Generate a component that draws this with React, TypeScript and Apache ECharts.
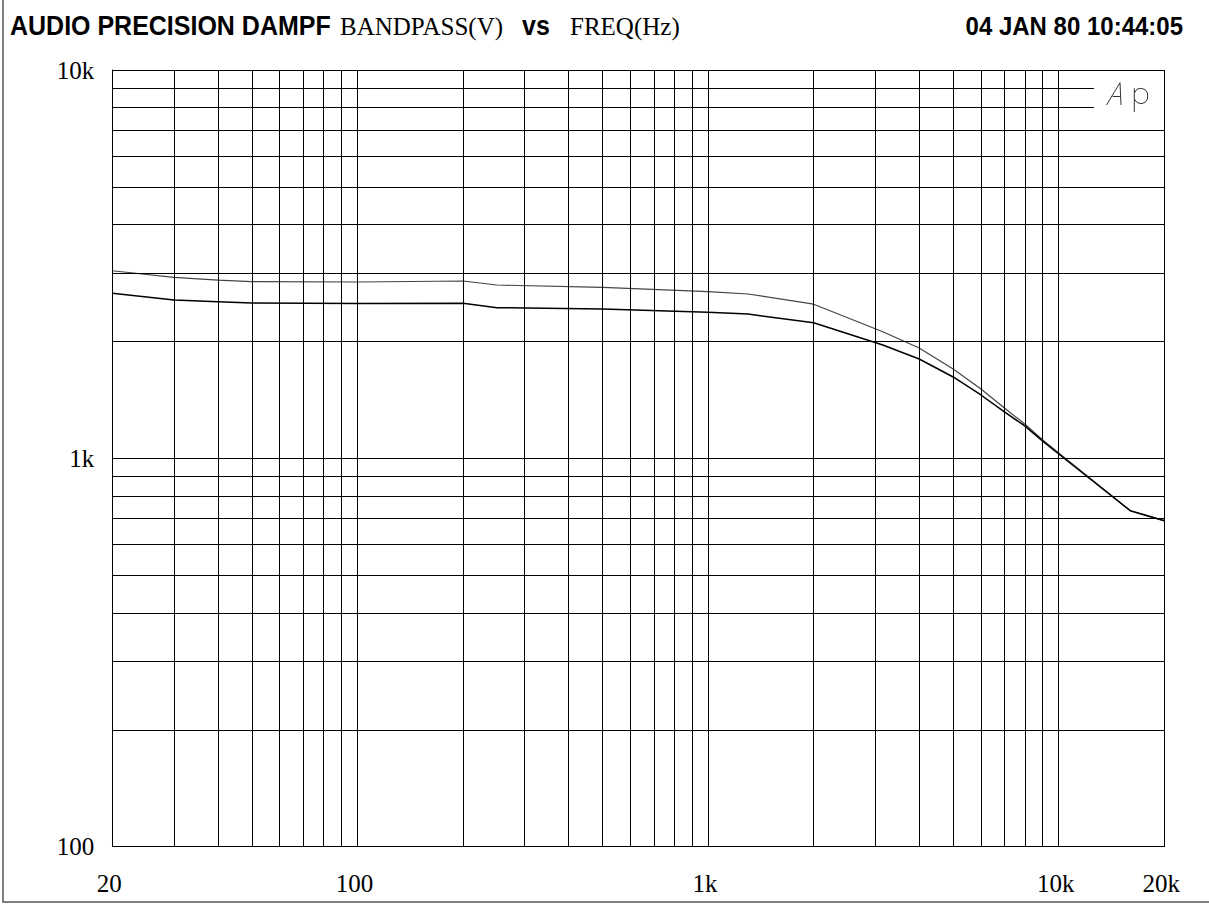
import React, { useEffect, useRef } from "react";
import * as echarts from "echarts";

// Sweep frequencies (Hz) and measured bandpass levels
const freqs = [20, 30, 40, 50, 100, 200, 250, 500, 1000, 1300, 2000, 3150, 4000, 5000, 6000, 7000, 8000, 9000, 10000, 16000, 20000];
const upperValues = [3041, 2925, 2878, 2851, 2845, 2862, 2795, 2757, 2686, 2650, 2494, 2119, 1924, 1699, 1509, 1348, 1226, 1115, 1032, 733, 691];
const lowerValues = [2661, 2557, 2532, 2512, 2504, 2507, 2443, 2424, 2377, 2353, 2234, 1958, 1802, 1620, 1456, 1317, 1212, 1108, 1026, 733, 691];

// Grid lines
const xGridValues = [20, 30, 40, 50, 60, 70, 80, 90, 100, 200, 300, 400, 500, 600, 700, 800, 900, 1000, 2000, 3000, 4000, 5000, 6000, 7000, 8000, 9000, 10000, 20000];
const yGridFull = [100, 200, 300, 400, 500, 600, 700, 800, 900, 1000, 2000, 3000, 4000, 5000, 6000, 7000, 10000];
const yGridShort = [8000, 9000];
const shortLineEndFreq = 12600;

// Tick labels
const xTickValues = [20, 100, 1000, 10000, 20000];
const xTickLabels = ["20", "100", "1k", "10k", "20k"];
const yTickValues = [100, 1000, 10000];
const yTickLabels = ["100", "1k", "10k"];

const titleLeft = "AUDIO PRECISION DAMPF";
const titleY = "BANDPASS(V)";
const titleVs = "vs";
const titleX = "FREQ(Hz)";
const dateText = "04 JAN 80 10:44:05";

export default function App() {
  const ref = useRef<HTMLDivElement>(null);
  useEffect(() => {
    if (!ref.current) return;
    const chart = echarts.init(ref.current, null, { renderer: "svg" });
    const gridStyle = { color: "#000", width: 1, type: "solid" as const };
    const markData: any[] = [];
    xGridValues.forEach((v) => markData.push({ xAxis: v }));
    yGridFull.forEach((v) => markData.push({ yAxis: v }));
    yGridShort.forEach((v) =>
      markData.push([{ coord: [20, v] }, { coord: [shortLineEndFreq, v] }])
    );
    const sans = "'Liberation Sans', Arial, sans-serif";
    const serif = "'Liberation Serif', 'Times New Roman', serif";
    const option: any = {
      animation: false,
      backgroundColor: "#fff",
      grid: { left: 112.3, top: 70, right: 44.7, bottom: 57.3, containLabel: false },
      xAxis: {
        type: "log",
        logBase: 10,
        min: 20,
        max: 20000,
        axisLine: { show: true, lineStyle: { color: "#000", width: 1 } },
        axisTick: { show: false },
        splitLine: { show: false },
        minorSplitLine: { show: false },
        axisLabel: {
          customValues: xTickValues,
          formatter: (v: number) => {
            const i = xTickValues.findIndex((t) => Math.abs(t - v) / t < 1e-6);
            return i >= 0 ? xTickLabels[i] : "";
          },
          fontFamily: serif,
          fontSize: 25,
          color: "#000",
          margin: 24,
          padding: [0, 6, 0, 0],
        },
      },
      yAxis: {
        type: "log",
        logBase: 10,
        min: 100,
        max: 10000,
        axisLine: { show: true, lineStyle: { color: "#000", width: 1 } },
        axisTick: { show: false },
        splitLine: { show: false },
        axisLabel: {
          customValues: yTickValues,
          formatter: (v: number) => {
            const i = yTickValues.findIndex((t) => Math.abs(t - v) / t < 1e-6);
            return i >= 0 ? yTickLabels[i] : "";
          },
          fontFamily: serif,
          fontSize: 25,
          color: "#000",
          margin: 18,
          padding: [0, 0, 3, 0],
        },
      },
      series: [
        {
          type: "line",
          name: "grid",
          data: [],
          silent: true,
          markLine: {
            silent: true,
            symbol: ["none", "none"],
            label: { show: false },
            lineStyle: gridStyle,
            emphasis: { disabled: true },
            data: markData,
          },
        },
        {
          type: "line",
          name: "upper",
          data: freqs.map((f, i) => [f, upperValues[i]]),
          showSymbol: false,
          symbol: "none",
          lineStyle: { color: "#444", width: 1.2 },
          z: 3,
        },
        {
          type: "line",
          name: "lower",
          data: freqs.map((f, i) => [f, lowerValues[i]]),
          showSymbol: false,
          symbol: "none",
          lineStyle: { color: "#000", width: 1.5 },
          z: 3,
        },
      ],
      graphic: [
        {
          type: "polyline",
          shape: { points: [[3, 0], [3, 902], [1209, 902]] },
          style: { stroke: "#555", lineWidth: 1.5, fill: null },
          silent: true,
        },
        {
          type: "text",
          x: 10,
          y: 26,
          scaleY: 1.1,
          style: { text: titleLeft, font: `bold 25px ${sans}`, fill: "#000", verticalAlign: "middle" },
        },
        {
          type: "text",
          x: 340,
          y: 26,
          style: { text: titleY, font: `25px ${serif}`, fill: "#000", verticalAlign: "middle" },
        },
        {
          type: "text",
          x: 522,
          y: 26,
          scaleY: 1.1,
          style: { text: titleVs, font: `bold 25px ${sans}`, fill: "#000", verticalAlign: "middle" },
        },
        {
          type: "text",
          x: 570,
          y: 26,
          style: { text: titleX, font: `25px ${serif}`, fill: "#000", verticalAlign: "middle" },
        },
        {
          type: "text",
          x: 1183,
          y: 26,
          scaleY: 1.1,
          style: { text: dateText, font: `bold 24px ${sans}`, fill: "#000", align: "right", verticalAlign: "middle" },
        },
        {
          type: "polyline",
          shape: { points: [[1106.5, 105], [1120, 82.7], [1121, 105]] },
          style: { stroke: "#333", lineWidth: 1, fill: null },
          silent: true,
        },
        {
          type: "line",
          shape: { x1: 1112.7, y1: 96.5, x2: 1120.7, y2: 96.5 },
          style: { stroke: "#333", lineWidth: 1 },
          silent: true,
        },
        {
          type: "line",
          shape: { x1: 1134.3, y1: 88.3, x2: 1134.3, y2: 112 },
          style: { stroke: "#333", lineWidth: 1 },
          silent: true,
        },
        {
          type: "polyline",
          shape: {
            points: [
              [1134.3, 93], [1137, 89.2], [1141, 88.3], [1145, 89.5], [1147.5, 93],
              [1147.5, 99], [1145, 102.5], [1141, 103.7], [1137, 102.5], [1134.3, 99],
            ],
          },
          style: { stroke: "#333", lineWidth: 1, fill: null },
          silent: true,
        },
      ],
    };
    chart.setOption(option);
    return () => chart.dispose();
  }, []);
  return (
    <div
      ref={ref}
      style={{ position: "absolute", left: 0, top: 0, width: 1209, height: 904, background: "#fff" }}
    />
  );
}
